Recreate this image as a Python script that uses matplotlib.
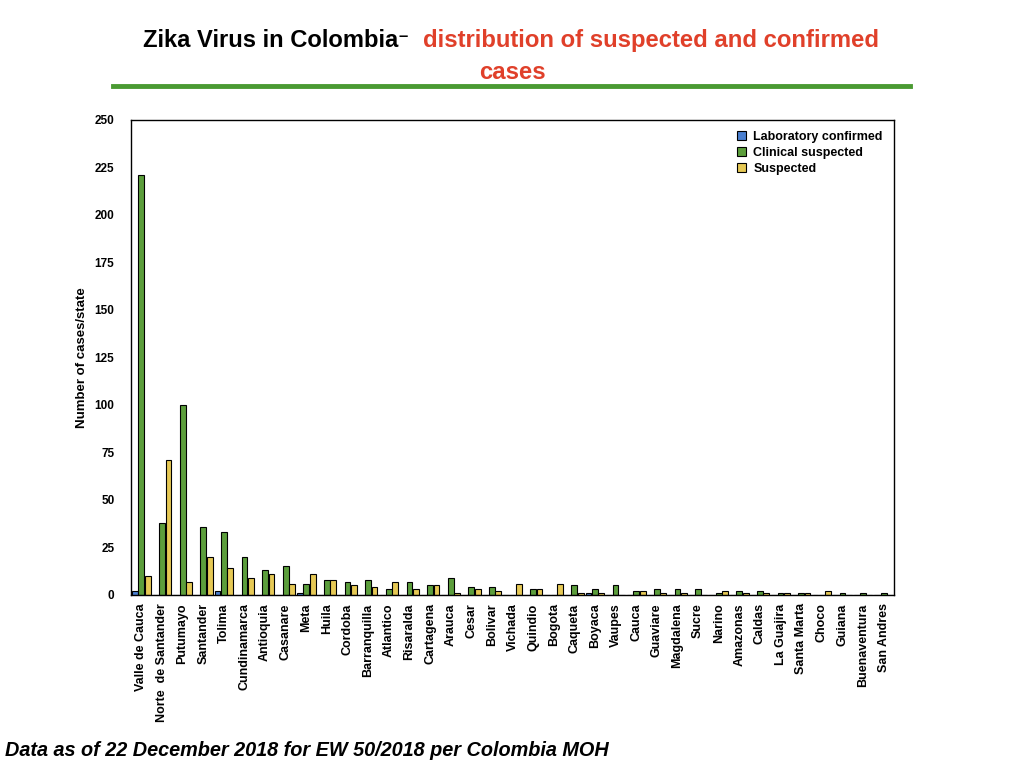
import numpy as np
import matplotlib
matplotlib.use("Agg")
import matplotlib.pyplot as plt

plt.rcParams["font.family"] = ["Liberation Sans", "DejaVu Sans"]

states = ["Valle de Cauca", "Norte  de Santander", "Putumayo", "Santander", "Tolima",
          "Cundinamarca", "Antioquia", "Casanare", "Meta", "Huila", "Cordoba",
          "Barranquilla", "Atlantico", "Risaralda", "Cartagena", "Arauca", "Cesar",
          "Bolivar", "Vichada", "Quindio", "Bogota", "Caqueta", "Boyaca", "Vaupes",
          "Cauca", "Guaviare", "Magdalena", "Sucre", "Narino", "Amazonas", "Caldas",
          "La Guajira", "Santa Marta", "Choco", "Guiana", "Buenaventura", "San Andres"]

lab_confirmed = [2, 0, 0, 0, 2, 0, 0, 0, 1, 0, 0, 0, 0, 0, 0, 0, 0, 0, 0, 0, 0,
                 0, 1, 0, 0, 0, 0, 0, 0, 0, 0, 0, 0, 0, 0, 0, 0]
clinical_suspected = [221, 38, 100, 36, 33, 20, 13, 15, 6, 8, 7, 8, 3, 7, 5, 9, 4,
                      4, 0, 3, 0, 5, 3, 5, 2, 3, 3, 3, 1, 2, 2, 1, 1, 0, 1, 1, 1]
suspected = [10, 71, 7, 20, 14, 9, 11, 6, 11, 8, 5, 4, 7, 3, 5, 1, 3, 2, 6, 3, 6,
             1, 1, 0, 2, 1, 1, 0, 2, 1, 1, 1, 1, 2, 0, 0, 0]

x = np.arange(len(states))
w = 0.28
off = 0.31

fig = plt.figure(figsize=(10.24, 7.68), dpi=100)
ax = fig.add_axes([0.128, 0.2253, 0.745, 0.6185])

ax.bar(x - off, lab_confirmed, w, color="#4a7fd0", edgecolor="black", linewidth=0.8,
       label="Laboratory confirmed")
ax.bar(x, clinical_suspected, w, color="#5c9e3c", edgecolor="black", linewidth=0.8,
       label="Clinical suspected")
ax.bar(x + off, suspected, w, color="#e6c955", edgecolor="black", linewidth=0.8,
       label="Suspected")

ax.set_xlim(-0.5, len(states) - 0.5)
ax.set_ylim(0, 250)
ax.set_yticks(range(0, 251, 25))
ax.set_xticks(x)
ax.set_xticklabels(states, rotation=90, fontsize=9, fontweight="bold")
for t in ax.get_yticklabels():
    t.set_fontsize(8.5)
    t.set_fontweight("bold")
ax.tick_params(axis="y", length=0, pad=12)
ax.tick_params(axis="x", length=0, pad=6)
ax.set_ylabel("Number of cases/state", fontsize=9.5, fontweight="bold", labelpad=5)
for s in ax.spines.values():
    s.set_linewidth(1.0)

leg = ax.legend(loc="upper right", frameon=False, handlelength=0.7,
                handleheight=0.7, handletextpad=0.6, labelspacing=0.3,
                borderaxespad=0.5, prop={"weight": "bold", "size": 9})

fig.text(0.14, 0.947, "Zika Virus in Colombia", fontsize=17.1, fontweight="bold",
         color="black", va="center", ha="left")
fig.text(0.389, 0.953, "\u2013", fontsize=12, fontweight="bold",
         color="black", va="center", ha="left")
fig.text(0.413, 0.947, "distribution of suspected and confirmed", fontsize=17.2,
         fontweight="bold", color="#e0402a", va="center", ha="left")
fig.text(0.5, 0.906, "cases", fontsize=17.2, fontweight="bold", color="#e0402a",
         va="center", ha="center")
fig.add_artist(plt.Line2D([0.11, 0.889], [0.888, 0.888], color="#4a9a32",
                          linewidth=3.5, transform=fig.transFigure))

fig.text(0.005, 0.023, "Data as of 22 December 2018 for EW 50/2018 per Colombia MOH",
         fontsize=14.3, fontweight="bold", style="italic", va="center", ha="left")

fig.savefig("out.png", dpi=100)
